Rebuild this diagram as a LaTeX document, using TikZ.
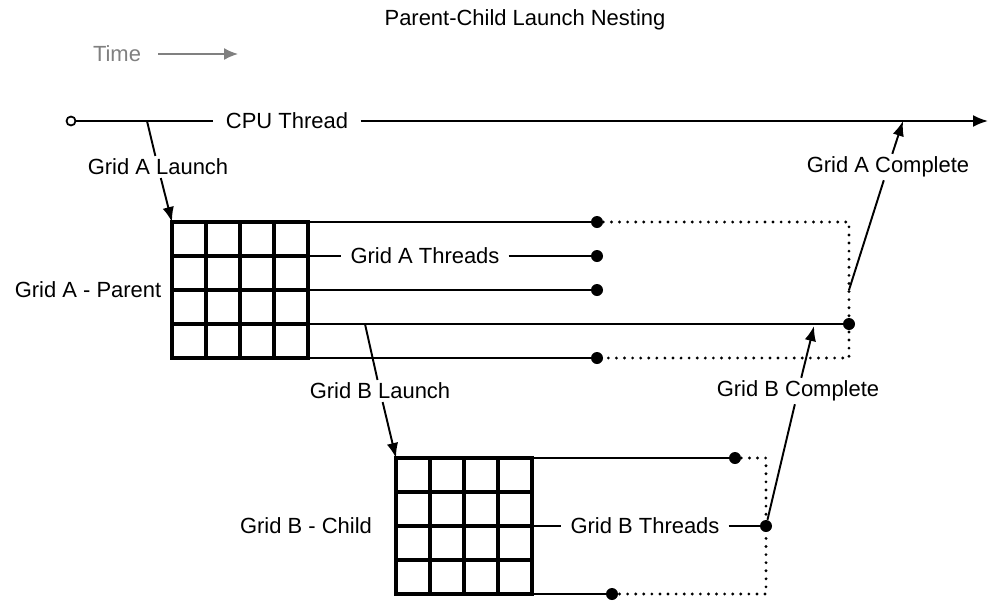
\documentclass[tikz,border=0pt]{standalone}
\usepackage{fontspec}
\setmainfont{Liberation Sans}
\usetikzlibrary{arrows.meta}

\tikzset{
  lbl/.style={font=\fontsize{12.5}{14}\selectfont, inner xsep=2pt, inner ysep=1.5pt},
  gridline/.style={line width=1.9pt, line cap=rect},
  thread/.style={line width=1.1pt},
  waitline/.style={line width=1.8pt, dash pattern=on 0pt off 4.6pt, line cap=round},
  flow/.style={line width=1.1pt, -{Latex[length=3mm,width=2.3mm]}},
  dot/.style={circle, fill=black, inner sep=0pt, minimum size=0.24cm},
  opendot/.style={circle, draw, line width=1pt, fill=white, inner sep=0pt, minimum size=0.18cm},
}

\begin{document}
\begin{tikzpicture}[x=0.02cm,y=-0.02cm]
  \def\cell{34}  % cell size of a grid
  \useasboundingbox (0,0) rectangle (1002,609);

  % title and time direction
  \node[lbl] (title) at (525,20) {Parent-Child Launch Nesting};
  \node[lbl,text=gray] (time) at (117,54) {Time};
  \coordinate (timeStart) at (158,54);
  \coordinate (timeEnd)   at (238,54);
  \draw[gray,line width=0.9pt,-{Latex[length=2.8mm,width=2.4mm]}] (timeStart) -- (timeEnd);

  % CPU thread
  \node[opendot] (cpu0) at (71,121) {};
  \node[lbl,inner xsep=7pt] (cpu) at (287,121) {CPU Thread};
  \coordinate (cpuEnd) at (988,121);
  \coordinate (forkA)  at (147,121);
  \coordinate (joinA)  at (903,121);
  \draw[thread] (cpu0) -- (cpu);
  \draw[thread,-{Latex[length=3mm,width=2.4mm]}] (cpu) -- (cpuEnd);

  % grid A
  \coordinate (gridA) at (172,222);
  \foreach \i in {0,...,4} {
    \draw[gridline] (172+\i*\cell,222) -- ++(0,4*\cell);
    \draw[gridline] (172,222+\i*\cell) -- ++(4*\cell,0);
    \coordinate (A\i) at (308,222+\i*\cell);
  }
  \node[lbl] (parent) at (88,290) {Grid A - Parent};

  % grid A threads
  \node[dot] (a0) at (597,222) {};
  \node[dot] (a1) at (597,256) {};
  \node[dot] (a2) at (597,290) {};
  \node[dot] (a3) at (849,324) {};
  \node[dot] (a4) at (597,358) {};
  \node[lbl,inner xsep=5pt] (threadsA) at (425,256) {Grid A Threads};
  \draw[thread] (A0) -- (a0)  (A1) -- (threadsA) -- (a1)  (A2) -- (a2)
                (A3) -- (a3)  (A4) -- (a4);
  \coordinate (waitA0) at (849,222);
  \coordinate (waitA4) at (849,358);
  \draw[waitline] (a0) -- (waitA0) -- (waitA4) -- (a4);

  % grid B
  \coordinate (gridB) at (396,458);
  \foreach \i in {0,...,4} {
    \draw[gridline] (396+\i*\cell,458) -- ++(0,4*\cell);
    \draw[gridline] (396,458+\i*\cell) -- ++(4*\cell,0);
    \coordinate (B\i) at (532,458+\i*\cell);
  }
  \node[lbl] (child) at (306,526) {Grid B - Child};

  % grid B threads
  \node[dot] (b0) at (735,458) {};
  \node[dot] (b2) at (766,526) {};
  \node[dot] (b4) at (612,594) {};
  \node[lbl,inner xsep=5pt] (threadsB) at (645,526) {Grid B Threads};
  \draw[thread] (B0) -- (b0)  (B2) -- (threadsB) -- (b2)  (B4) -- (b4);
  \coordinate (waitB0) at (766,458);
  \coordinate (waitB4) at (766,594);
  \draw[waitline] (b0) -- (waitB0) -- (waitB4) -- (b4);

  % launches and completions
  \node[lbl] (launchA) at (158,167) {Grid A Launch};
  \draw[flow] (forkA) -- (launchA) -- (gridA);
  \coordinate (forkB) at (365,324);
  \node[lbl] (launchB) at (380,391) {Grid B Launch};
  \draw[flow] (forkB) -- (launchB) -- (gridB);
  \coordinate (joinB) at (814,326);
  \node[lbl] (doneB) at (798,391) {Grid B Complete};
  \draw[flow] (b2) -- (doneB) -- (joinB);
  \coordinate (endA) at (849,290);
  \node[lbl] (doneA) at (888,167) {Grid A Complete};
  \draw[flow] (endA) -- (doneA) -- (joinA);
\end{tikzpicture}
\end{document}
